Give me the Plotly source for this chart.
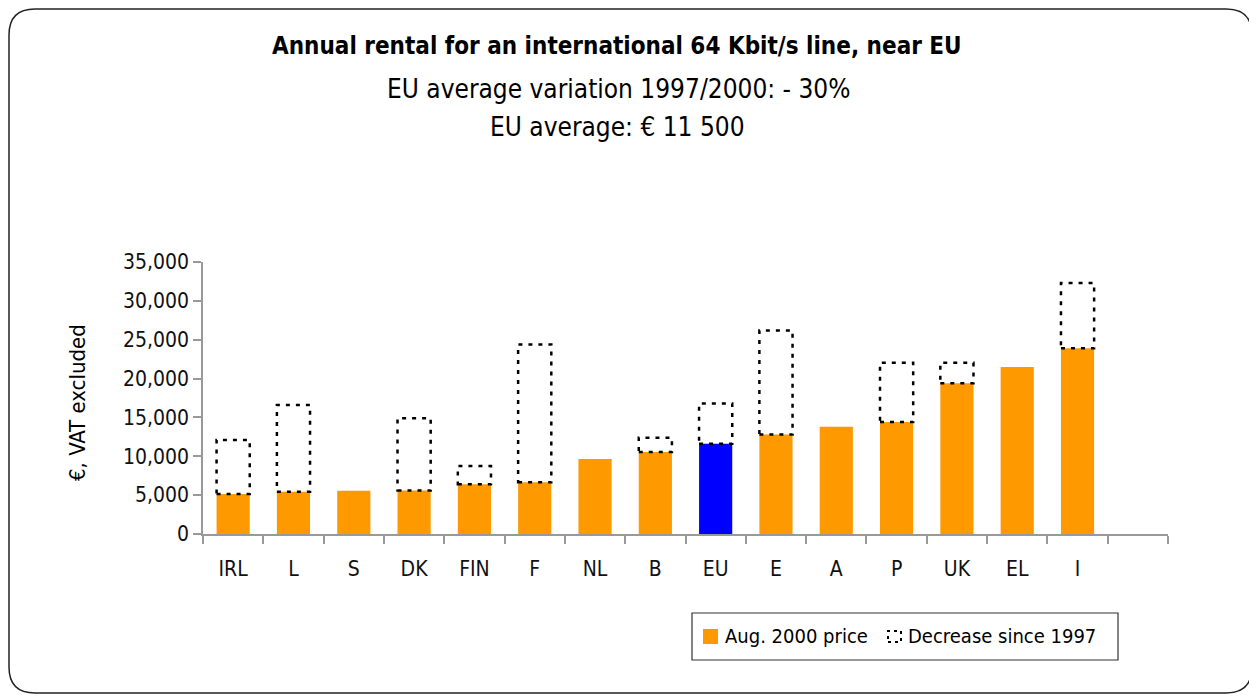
import plotly.graph_objects as go

countries = ["IRL", "L", "S", "DK", "FIN", "F", "NL", "B", "EU", "E", "A", "P", "UK", "EL", "I"]
price_2000 = [5150, 5450, 5550, 5600, 6400, 6650, 9650, 10550, 11600, 12800, 13800, 14400, 19400, 21500, 23900]
price_1997 = [12100, 16600, None, 14900, 8750, 24400, None, 12400, 16800, 26200, None, 22050, 22050, None, 32300]
y_ticks = [0, 5000, 10000, 15000, 20000, 25000, 30000, 35000]

OFF = 8  # page body margin
W, H = 1249, 689
L, R, T, B = 195, 89, 254, 163
PW, PH = W - L - R, H - T - B


def fx(px):
    """screen x -> paper x"""
    return (px - OFF - L) / PW


def fy(py):
    """screen y -> paper y"""
    return (H - B - (py - OFF)) / PH


FONT = "DejaVu Sans Condensed, Liberation Sans Narrow, Arial Narrow, sans-serif"
ORANGE = "#FF9900"
BLUE = "#0000FF"

colors = [BLUE if c == "EU" else ORANGE for c in countries]
xs = list(range(len(countries)))
BW = 0.55

fig = go.Figure()
fig.add_trace(go.Bar(x=xs, y=price_2000, marker=dict(color=colors, line=dict(width=0)),
                     width=BW, showlegend=False, hoverinfo="x+y"))

shapes = []
for i, (p, q) in enumerate(zip(price_2000, price_1997)):
    if q is None:
        continue
    shapes.append(dict(type="rect", xref="x", yref="y", x0=i - BW / 2, x1=i + BW / 2,
                       y0=p, y1=q, line=dict(color="black", width=2.5, dash="4px,6px"),
                       fillcolor="rgba(0,0,0,0)", layer="above"))

# rounded outer frame (paper coords, screen pixels)
x0, x1, y0, y1, r = 9, 1252, 9, 693, 26
path = (f"M {fx(x0 + r)} {fy(y0)} L {fx(x1 - r)} {fy(y0)} "
        f"Q {fx(x1)} {fy(y0)} {fx(x1)} {fy(y0 + r)} L {fx(x1)} {fy(y1 - r)} "
        f"Q {fx(x1)} {fy(y1)} {fx(x1 - r)} {fy(y1)} L {fx(x0 + r)} {fy(y1)} "
        f"Q {fx(x0)} {fy(y1)} {fx(x0)} {fy(y1 - r)} L {fx(x0)} {fy(y0 + r)} "
        f"Q {fx(x0)} {fy(y0)} {fx(x0 + r)} {fy(y0)} Z")
shapes.append(dict(type="path", xref="paper", yref="paper", path=path,
                   line=dict(color="#222", width=1.5)))

# custom legend
shapes.append(dict(type="rect", xref="paper", yref="paper", x0=fx(692), x1=fx(1118),
                   y0=fy(660), y1=fy(613), line=dict(color="#333", width=1.2),
                   fillcolor="white"))
shapes.append(dict(type="rect", xref="paper", yref="paper", x0=fx(703), x1=fx(718),
                   y0=fy(644), y1=fy(629), line=dict(width=0), fillcolor=ORANGE))
shapes.append(dict(type="rect", xref="paper", yref="paper", x0=fx(888), x1=fx(901),
                   y0=fy(642), y1=fy(631), line=dict(color="black", width=2, dash="3px,4px"),
                   fillcolor="rgba(0,0,0,0)"))

annotations = [
    dict(text="<b>Annual rental for an international 64 Kbit/s line, near EU</b>",
         x=fx(617), y=fy(46), xref="paper", yref="paper", showarrow=False,
         font=dict(family=FONT, size=24, color="black"), xanchor="center", yanchor="middle"),
    dict(text="EU average variation 1997/2000: - 30%",
         x=fx(618), y=fy(89), xref="paper", yref="paper", showarrow=False,
         font=dict(family=FONT, size=26, color="black"), xanchor="center", yanchor="middle"),
    dict(text="EU average: € 11 500",
         x=fx(617), y=fy(127), xref="paper", yref="paper", showarrow=False,
         font=dict(family=FONT, size=26, color="black"), xanchor="center", yanchor="middle"),
    dict(text="€, VAT excluded", textangle=-90,
         x=fx(77), y=fy(402), xref="paper", yref="paper", showarrow=False,
         font=dict(family=FONT, size=22, color="black"), xanchor="center", yanchor="middle"),
    dict(text="Aug. 2000 price", x=fx(723), y=fy(636), xref="paper", yref="paper",
         showarrow=False, font=dict(family=FONT, size=20, color="black"),
         xanchor="left", yanchor="middle"),
    dict(text="Decrease since 1997", x=fx(906), y=fy(636), xref="paper", yref="paper",
         showarrow=False, font=dict(family=FONT, size=20, color="black"),
         xanchor="left", yanchor="middle"),
]

fig.update_layout(
    width=W, height=H, margin=dict(l=L, r=R, t=T, b=B, autoexpand=False),
    paper_bgcolor="white", plot_bgcolor="white",
    font=dict(family=FONT, size=21, color="#111"),
    shapes=shapes, annotations=annotations, showlegend=False, bargap=0.45,
    xaxis=dict(range=[-0.5, 15.5], tickmode="array", tickvals=xs, ticktext=countries,
               ticks="", showgrid=False, zeroline=False, showline=True,
               linecolor="#999", linewidth=1.5, ticklabelstandoff=15,
               minor=dict(tickmode="linear", tick0=-0.5, dtick=1, ticks="outside",
                          ticklen=8, tickcolor="#999", tickwidth=1.5, showgrid=False),
               tickfont=dict(family=FONT, size=21, color="#111"), fixedrange=True),
    yaxis=dict(range=[0, 35000], tickmode="array", tickvals=y_ticks,
               ticktext=[f"{v:,}" for v in y_ticks], ticks="outside", ticklen=8,
               tickcolor="#999", tickwidth=1.5, showgrid=False, zeroline=False,
               showline=True, linecolor="#999", linewidth=1.5,
               tickfont=dict(family=FONT, size=21, color="#111"), fixedrange=True),
)

fig.write_html("out.html")
